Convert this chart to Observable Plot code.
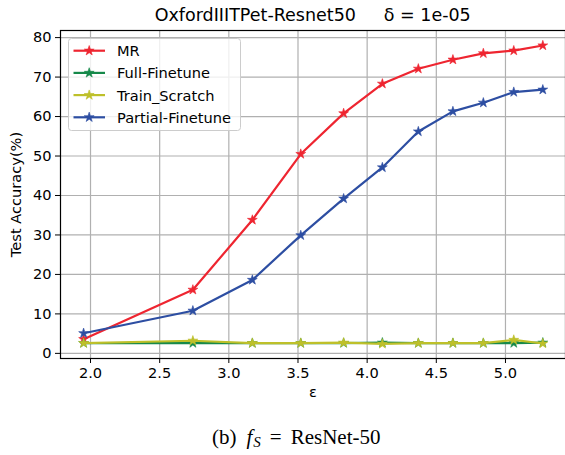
<!DOCTYPE html>
<html><head><meta charset="utf-8">
<script src="https://cdn.jsdelivr.net/npm/d3@7"></script>
<script src="https://cdn.jsdelivr.net/npm/@observablehq/plot@0.6"></script>
<style>body{margin:0;background:#fff} #chart{position:relative;width:565px;height:455px;overflow:hidden}</style>
</head><body><div id="chart"></div>
<script>
const epsilons = [1.95, 2.74, 3.17, 3.52, 3.83, 4.11, 4.37, 4.62, 4.84, 5.06, 5.27];
const seriesNames = ["MR", "Full-Finetune", "Train_Scratch", "Partial-Finetune"];
const seriesColors = ["#ee2530", "#16894a", "#bec02a", "#2d4ea2"];
const mrAcc = [3.6, 16.1, 33.8, 50.5, 60.8, 68.3, 72.1, 74.4, 76.0, 76.7, 78.0];
const fullAcc = [2.6, 2.6, 2.6, 2.6, 2.6, 2.7, 2.6, 2.6, 2.6, 2.6, 2.7];
const scratchAcc = [2.6, 3.2, 2.6, 2.6, 2.7, 2.4, 2.6, 2.6, 2.6, 3.4, 2.5];
const partialAcc = [5.1, 10.8, 18.6, 29.9, 39.2, 47.1, 56.2, 61.3, 63.5, 66.2, 66.8];
const xTicks = [2.0, 2.5, 3.0, 3.5, 4.0, 4.5, 5.0];
const yTicks = [0, 10, 20, 30, 40, 50, 60, 70, 80];
const titleText = "OxfordIIITPet-Resnet50     δ = 1e-05";

const allSeries = [mrAcc, fullAcc, scratchAcc, partialAcc];
const font = "DejaVu Sans";
const fs = 14.6;

const seriesMarks = [];
allSeries.forEach((vals, i) => {
  const rows = vals.map((v, j) => ({eps: epsilons[j], acc: v, series: seriesNames[i]}));
  seriesMarks.push(Plot.line(rows, {x: "eps", y: "acc", stroke: "series", strokeWidth: 2.2}));
  seriesMarks.push(Plot.dot(rows, {x: "eps", y: "acc", fill: "series", stroke: "series", strokeWidth: 0.6, symbol: "star", r: 3.1}));
});

const chart = Plot.plot({
  width: 565, height: 455,
  marginLeft: 60, marginRight: 0, marginTop: 30, marginBottom: 97,
  style: {fontFamily: font, fontSize: fs + "px", color: "#000", background: "#fff"},
  x: {domain: [1.783, 5.434]},
  y: {domain: [-1.3, 81.8]},
  color: {domain: seriesNames, range: seriesColors},
  marks: [
    Plot.gridX(xTicks, {stroke: "#b0b0b0", strokeOpacity: 1, strokeWidth: 1.2}),
    Plot.gridY(yTicks, {stroke: "#b0b0b0", strokeOpacity: 1, strokeWidth: 1.2}),
    Plot.axisX(xTicks, {tickFormat: d => d.toFixed(1), tickSize: 5, tickPadding: 4, fontSize: fs, stroke: "#000", label: "ε", labelAnchor: "center", labelArrow: "none", labelOffset: 38}),
    Plot.axisY(yTicks, {tickFormat: d => String(d), tickSize: 5, tickPadding: 4, fontSize: fs, stroke: "#000", label: "Test Accuracy(%)", labelAnchor: "center", labelArrow: "none", labelOffset: 50}),
    ...seriesMarks,
    Plot.frame({stroke: "#000", strokeWidth: 1.2})
  ]
});
document.getElementById("chart").appendChild(chart);

const svg = d3.select(chart);
svg.append("text").attr("x", 312.7).attr("y", 15).attr("text-anchor", "middle").attr("dominant-baseline", "central")
  .attr("font-family", font).attr("font-size", 17.5).attr("fill", "#000").text(titleText);

// legend
const lg = svg.append("g").attr("text-anchor", "start");
lg.append("rect").attr("x", 68.5).attr("y", 38.5).attr("width", 172).attr("height", 92).attr("rx", 3)
  .attr("fill", "#fff").attr("fill-opacity", 0.8).attr("stroke", "#cccccc").attr("stroke-width", 1);
const star = d3.symbol(d3.symbolStar, Math.PI * 3.1 * 3.1)();
seriesNames.forEach((name, i) => {
  const cy = 50.7 + i * 22.2;
  lg.append("line").attr("x1", 73.5).attr("x2", 105).attr("y1", cy).attr("y2", cy).attr("stroke", seriesColors[i]).attr("stroke-width", 2.2);
  lg.append("path").attr("d", star).attr("transform", `translate(89.2,${cy})`).attr("fill", seriesColors[i]).attr("stroke", seriesColors[i]).attr("stroke-width", 0.6);
  lg.append("text").attr("x", 117).attr("y", cy).attr("text-anchor", "start").attr("dominant-baseline", "central").attr("font-family", font).attr("font-size", fs).attr("fill", "#000").text(name);
});

// caption
const cap = svg.append("text").attr("x", 212).attr("y", 444).attr("text-anchor", "start")
  .attr("font-family", "Liberation Serif").attr("font-size", 21).attr("fill", "#000");
cap.append("tspan").text("(b)");
cap.append("tspan").attr("dx", 10).attr("font-style", "italic").text("f");
cap.append("tspan").attr("dx", 1).attr("font-style", "italic").attr("font-size", 15).attr("dy", 3).text("S");
cap.append("tspan").attr("dx", 9).attr("dy", -3).text("=");
cap.append("tspan").attr("dx", 9).text("ResNet-50");
</script></body></html>
